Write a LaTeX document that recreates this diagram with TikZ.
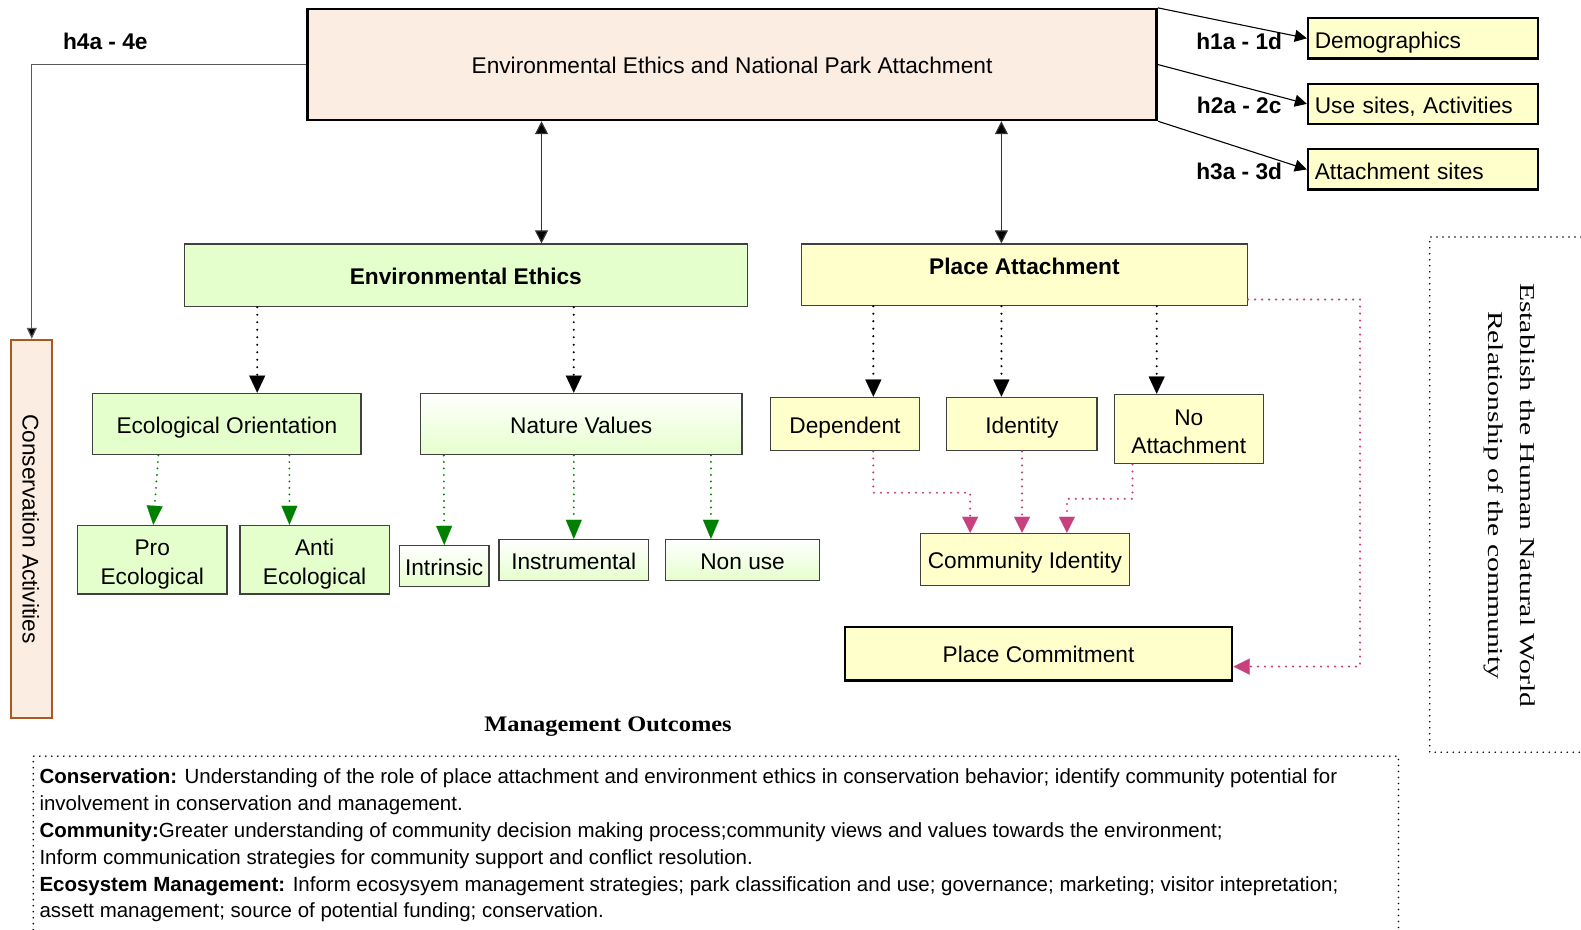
\documentclass[tikz,border=0pt]{standalone}
\usepackage{fontspec}
\setmainfont{Liberation Sans}
\newfontfamily\serifx{Liberation Serif}
\usepackage{graphicx}
\usetikzlibrary{arrows.meta}
\definecolor{peach}{HTML}{FCEDE3}
\definecolor{cabrown}{HTML}{A8591F}
\definecolor{lgreen}{HTML}{E5FFCC}
\definecolor{lyellow}{HTML}{FFFFCC}
\definecolor{pinkc}{HTML}{C8417F}
\definecolor{greenc}{HTML}{008000}
\definecolor{edgegray}{HTML}{404040}
\begin{document}
\begin{tikzpicture}[x=1pt,y=-1pt,scale=1.0083,every node/.style={transform shape},
  fs/.style={font=\fontsize{22.5}{28}\selectfont},
  bfs/.style={font=\bfseries\fontsize{22.5}{28}\selectfont},
  one/.style={text height=18pt,text depth=0pt},
  box/.style={draw=edgegray,line width=1.3pt,inner sep=0pt,align=center,fs},
  gbox/.style={box,fill=lgreen},
  shbox/.style={box,top color=white,bottom color=lgreen},
  ybox/.style={box,fill=lyellow},
  heavy/.style={draw=black,line width=2.4pt},
  rarrow/.style={draw=black,line width=1.1pt,-{Triangle[length=12pt,width=12pt]}},
  grayarr/.style={draw=black!65,line width=1.2pt,-{Triangle[length=11pt,width=10pt,fill=black]}},
  dbl/.style={draw=black!80,line width=1.2pt,{Triangle[length=13pt,width=13pt,fill=black]}-{Triangle[length=13pt,width=13pt,fill=black]}},
  blkdot/.style={draw=black,line width=2.3pt,dash pattern=on 0pt off 7.5pt,line cap=round,-{Triangle[length=17pt,width=16pt,line width=0.1pt]}},
  grndot/.style={draw=greenc,line width=2.1pt,dash pattern=on 0pt off 6.5pt,line cap=round,-{Triangle[length=19pt,width=16pt,line width=0.1pt]}},
  pnkdot/.style={draw=pinkc,line width=2.3pt,dash pattern=on 0pt off 7pt,line cap=round,-{Triangle[length=16pt,width=16pt,line width=0.1pt]}},
  dotbox/.style={draw=black,line width=1.8pt,dash pattern=on 0pt off 6pt,line cap=round}]
\useasboundingbox (0,0) rectangle (1568,922);

% main box
\node[box,one,heavy,fill=peach,minimum width=842pt,minimum height=110pt] (top) at (726,64) {Environmental Ethics and National Park Attachment};

% conservation activities
\node[box,one,draw=cabrown,line width=2pt,fill=peach,rotate=-90,minimum width=375pt,minimum height=41pt] (ca) at (31.5,524.5) {Conservation Activities};

% right boxes
\node[ybox,heavy,line width=2.2pt,minimum width=228pt,minimum height=40pt,text width=214pt,align=left,text height=20pt,text depth=0pt] (demo) at (1411,38) {Demographics};
\node[ybox,heavy,line width=2.2pt,minimum width=228pt,minimum height=40pt,text width=214pt,align=left,text height=20pt,text depth=0pt] (use) at (1411,103) {Use sites, Activities};
\node[ybox,heavy,line width=2.2pt,minimum width=228pt,minimum height=40pt,text width=214pt,align=left,text height=20pt,text depth=0pt] (att) at (1411,168) {Attachment sites};

% labels
\node[bfs,one] (l4) at (104.5,40) {h4a - 4e};
\node[bfs,one] (l1) at (1229,40) {h1a - 1d};
\node[bfs,one] (l2) at (1229,104) {h2a - 2c};
\node[bfs,one] (l3) at (1229,169) {h3a - 3d};

% second level
\node[gbox,bfs,one,minimum width=558pt,minimum height=62pt] (ee) at (462,273) {Environmental Ethics};
\node[ybox,bfs,minimum width=442pt,minimum height=61pt,text height=16.4pt,text depth=17.4pt] (pa) at (1016,272.5) {Place Attachment};

% third level
\node[gbox,one,minimum width=266pt,minimum height=61pt] (eo) at (225,420.5) {Ecological Orientation};
\node[shbox,one,minimum width=319pt,minimum height=61pt] (nv) at (576.5,420.5) {Nature Values};
\node[ybox,one,minimum width=148pt,minimum height=53pt] (dep) at (838,420.5) {Dependent};
\node[ybox,one,minimum width=149pt,minimum height=53pt] (idn) at (1013.5,420.5) {Identity};
\node[ybox,minimum width=148pt,minimum height=69pt] (noa) at (1179,425.5) {\rule{0pt}{21.5pt}No\\Attachment};

% fourth level
\node[gbox,font=\fontsize{22.5}{29}\selectfont,minimum width=148pt,minimum height=68pt] (pro) at (151,555) {\rule{0pt}{26pt}Pro\\Ecological};
\node[gbox,font=\fontsize{22.5}{29}\selectfont,minimum width=148pt,minimum height=68pt] (anti) at (312,555) {\rule{0pt}{26pt}Anti\\Ecological};
\node[shbox,one,minimum width=89pt,minimum height=41pt] (intr) at (440.5,561.5) {Intrinsic};
\node[shbox,one,minimum width=148pt,minimum height=41pt] (instr) at (569,555.5) {Instrumental};
\node[shbox,one,minimum width=153pt,minimum height=41pt] (nonu) at (736.5,555.5) {Non use};
\node[ybox,one,minimum width=207pt,minimum height=52pt] (ci) at (1016.5,555) {Community Identity};
\node[ybox,one,heavy,minimum width=384pt,minimum height=53pt] (pc) at (1030,648.5) {Place Commitment};

% connectors
\draw[rarrow] (top.north east) -- (demo.west);
\draw[rarrow] (top.east) -- (use.west);
\draw[rarrow] (top.south east) -- (att.west);
\draw[grayarr] (top.west) -| (ca.west);
\draw[dbl] ([xshift=75pt]ee.north) -- ([xshift=75pt]ee.north |- top.south);
\draw[dbl] ([xshift=-23pt]pa.north) -- ([xshift=-23pt]pa.north |- top.south);

\draw[blkdot] ([xshift=-207pt]ee.south) -- ([xshift=-207pt]ee.south |- eo.north);
\draw[blkdot] ([xshift=107pt]ee.south) -- ([xshift=107pt]ee.south |- nv.north);
\draw[blkdot] ([xshift=-150pt]pa.south) -- ([xshift=-150pt]pa.south |- dep.north);
\draw[blkdot] ([xshift=-23pt]pa.south) -- ([xshift=-23pt]pa.south |- idn.north);
\draw[blkdot] ([xshift=131pt]pa.south) -- ([xshift=131pt]pa.south |- noa.north);

\draw[grndot] ([xshift=-68pt]eo.south) -- ([xshift=1pt]pro.north);
\draw[grndot] ([xshift=62pt]eo.south) -- ([xshift=-25pt]anti.north);
\draw[grndot] ([xshift=-136.5pt]nv.south) -- (intr.north);
\draw[grndot] ([xshift=-7.5pt]nv.south) -- (instr.north);
\draw[grndot] ([xshift=128.5pt]nv.south) -- ([xshift=-31.5pt]nonu.north);

\draw[pnkdot] ([xshift=28pt]dep.south) -- ++(0,41) -| ([xshift=-54.5pt]ci.north);
\draw[pnkdot] (idn.south) -- (idn.south |- ci.north);
\draw[pnkdot] ([xshift=-56pt]noa.south) -- ++(0,34) -| ([xshift=41.5pt]ci.north);
\draw[pnkdot] ([yshift=-24.5pt]pa.east) -- ++(111,0) |- ([yshift=-12.5pt]pc.east);

% management outcomes
\node[font=\serifx\bfseries\fontsize{22}{26}\selectfont,anchor=base] (mo) at (603,725.5) {\scalebox{1.10}[1]{Management Outcomes}};
\draw[dotbox] (33,922) -- (33,750) -- (1387,750) -- (1387,922);
\node[anchor=north west,inner sep=0pt,align=left,font=\fontsize{20.3}{26.6}\selectfont] (out) at (39,762.5) {\textbf{Conservation:} Understanding of the role of place attachment and environment ethics in conservation behavior; identify community potential for\\involvement in conservation and management.\\\textbf{Community:}Greater understanding of community decision making process;community views and values towards the environment;\\Inform communication strategies for community support and conflict resolution.\\\textbf{Ecosystem Management:} Inform ecosysyem management strategies; park classification and use; governance; marketing; visitor intepretation;\\assett management; source of potential funding; conservation.};

% right note
\draw[dotbox] (1568,235) -- (1418,235) -- (1418,746) -- (1568,746);
\node[rotate=-90,align=center,font=\serifx\fontsize{21}{32}\selectfont] (est) at (1497,491) {\scalebox{1.40}[1]{Establish the Human Natural World}\\\scalebox{1.40}[1]{Relationship of the community}};
\end{tikzpicture}
\end{document}
